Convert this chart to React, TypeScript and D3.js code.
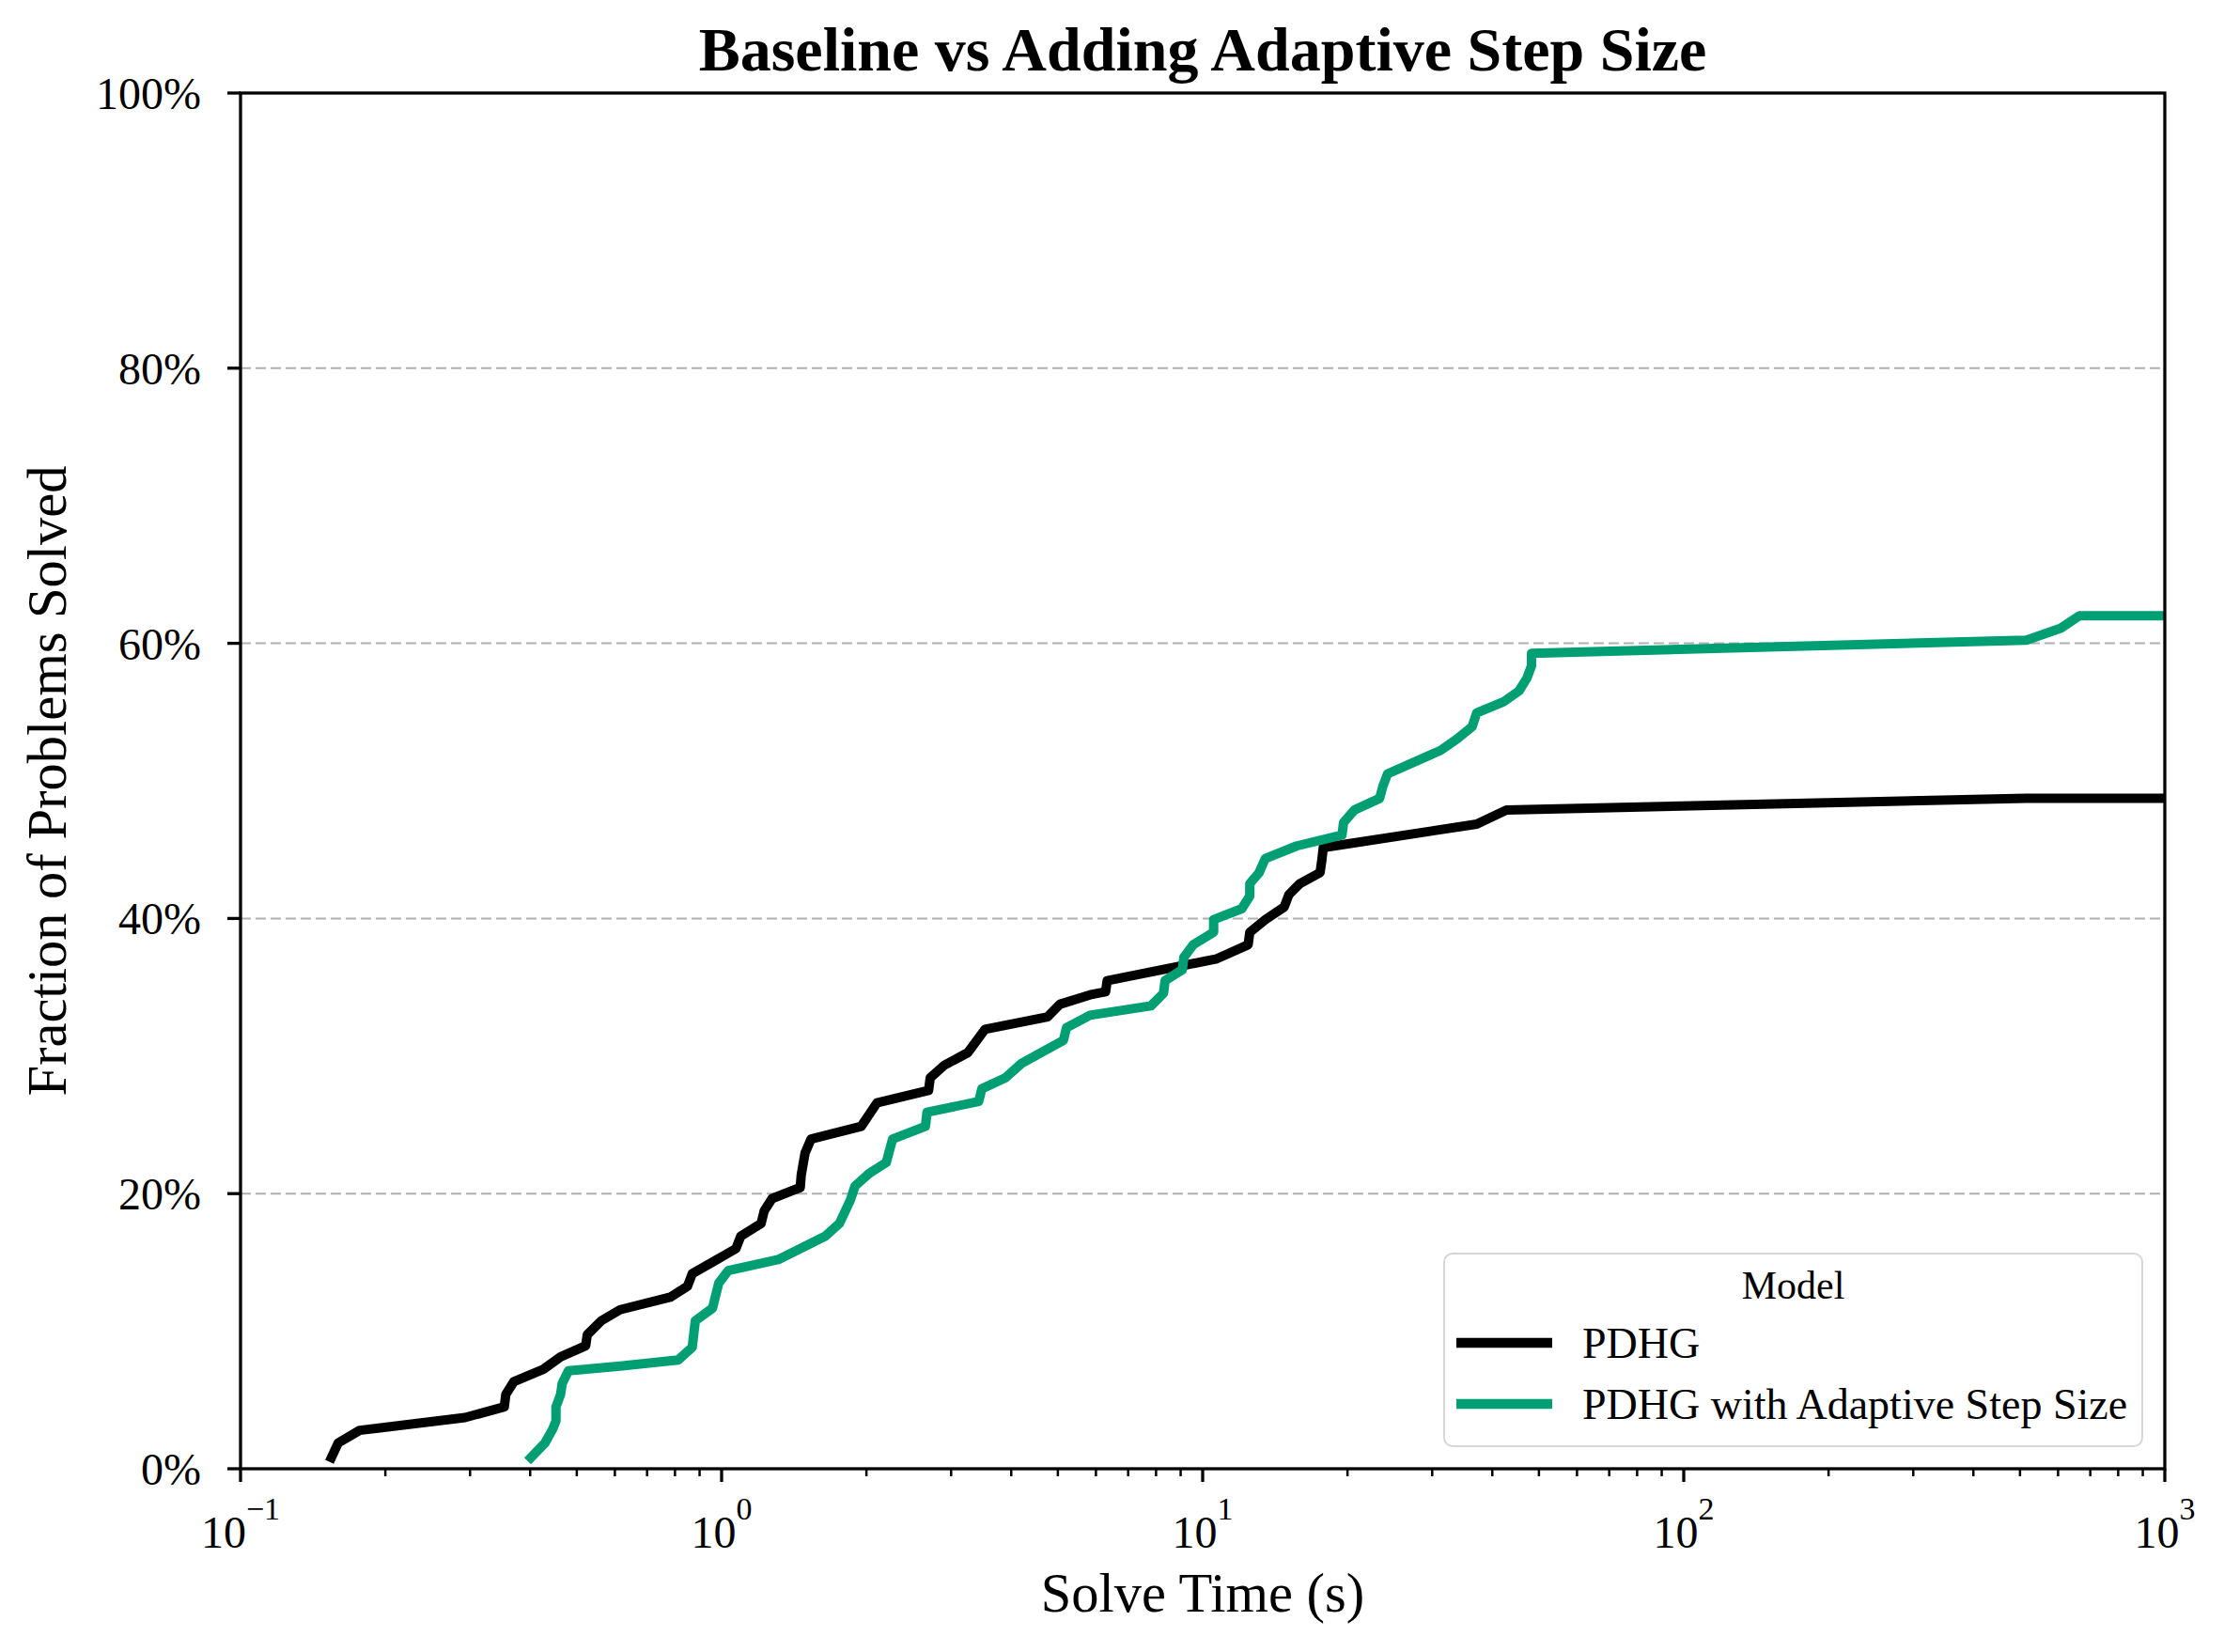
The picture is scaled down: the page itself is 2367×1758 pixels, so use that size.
import {useMemo} from "react";
import * as d3 from "d3";

const WIDTH = 2367;
const HEIGHT = 1758;
const MARGIN = {top: 99, right: 63, bottom: 195, left: 256};

const FONT = "'Liberation Serif', 'Times New Roman', Times, serif";
const GREEN = "#009E73";

// solve time (s) / fraction solved (%)
const pdhgTime = [
    0.1545, 0.1596, 0.1768, 0.2929, 0.3534, 0.356, 0.3697, 0.4261, 0.4628, 0.5217,
    0.5257, 0.5623, 0.6152, 0.7819, 0.8494, 0.8688, 0.9647, 1.071, 1.096, 1.208,
    1.226, 1.273, 1.457, 1.464, 1.491, 1.535, 1.951, 2.103, 2.693, 2.714,
    2.903, 3.249, 3.528, 4.761, 5.054, 5.831, 6.284, 6.33, 10.7, 12.43,
    12.53, 13.5, 14.77, 15.11, 15.92, 17.54, 17.69, 17.81, 37.13, 42.8,
    515.6, 1000,
];
const pdhgSolved = [
    0.81, 1.88, 2.79, 3.72, 4.5, 5.41, 6.32, 7.23, 8.14, 8.94,
    9.74, 10.76, 11.56, 12.47, 13.27, 14.18, 15.09, 16.0, 16.91, 17.82,
    18.74, 19.64, 20.44, 21.35, 22.95, 23.97, 24.89, 26.59, 27.5, 28.41,
    29.33, 30.24, 31.94, 32.85, 33.77, 34.45, 34.68, 35.48, 37.07, 38.09,
    39.0, 39.92, 40.83, 41.74, 42.53, 43.33, 44.24, 45.15, 46.86, 47.89,
    48.73, 48.73,
];

const adaptiveTime = [
    0.4013, 0.4295, 0.4457, 0.4526, 0.4526, 0.4628, 0.4662, 0.4804, 0.6152, 0.8122,
    0.8688, 0.8817, 0.9574, 0.9865, 1.032, 1.311, 1.642, 1.757, 1.852, 1.894,
    2.026, 2.199, 2.267, 2.653, 2.673, 3.424, 3.475, 3.889, 4.194, 5.134,
    5.211, 5.831, 7.808, 8.289, 8.353, 9.071, 9.14, 9.561, 10.54, 10.54,
    12.06, 12.53, 12.53, 13.1, 13.5, 15.68, 19.48, 19.63, 20.69, 23.33,
    23.68, 24.23, 31.24, 33.68, 36.31, 37.13, 42.17, 45.45, 47.18, 48.26,
    48.26, 515.6, 607.8, 665.1, 1000,
];
const adaptiveSolved = [
    0.81, 1.88, 2.9, 3.47, 4.5, 5.41, 6.2, 7.12, 7.46, 7.91,
    8.83, 10.76, 11.67, 13.5, 14.4, 15.2, 16.91, 17.82, 19.53, 20.55,
    21.47, 22.26, 23.97, 24.89, 25.91, 26.7, 27.62, 28.41, 29.44, 31.14,
    32.06, 32.97, 33.65, 34.56, 35.48, 36.27, 37.18, 38.09, 39.0, 39.92,
    40.71, 41.63, 42.53, 43.33, 44.36, 45.27, 46.07, 46.98, 47.89, 48.73,
    49.59, 50.51, 52.22, 53.01, 53.93, 54.95, 55.74, 56.54, 57.45, 58.37,
    59.28, 60.23, 61.1, 62.01, 62.01,
];

const seriesNames = ["PDHG", "PDHG with Adaptive Step Size"];
const seriesColors = ["#000000", GREEN];

const yTicks = [0, 20, 40, 60, 80, 100];
const xMajorTicks = [0.1, 1, 10, 100, 1000];
const xTickExponents = ["\u22121", "0", "1", "2", "3"];

type Pt = { t: number; v: number };

export default function App() {
    const boundsWidth = WIDTH - MARGIN.left - MARGIN.right;
    const boundsHeight = HEIGHT - MARGIN.top - MARGIN.bottom;

    const xScale = useMemo(
        () => d3.scaleLog().domain([0.1, 1000]).range([0, boundsWidth]),
        [boundsWidth]
    );
    const yScale = useMemo(
        () => d3.scaleLinear().domain([0, 100]).range([boundsHeight, 0]),
        [boundsHeight]
    );

    const series: Pt[][] = [
        pdhgTime.map((t, i) => ({t, v: pdhgSolved[i]})),
        adaptiveTime.map((t, i) => ({t, v: adaptiveSolved[i]})),
    ];

    const line = d3
        .line<Pt>()
        .x((d) => xScale(d.t))
        .y((d) => yScale(d.v));

    // minor ticks 2..9 of each decade
    const minorTicks: number[] = [];
    xMajorTicks.slice(0, -1).forEach((base) => {
        for (let k = 2; k <= 9; k++) minorTicks.push(base * k);
    });

    const legendX = 1537 - MARGIN.left;
    const legendY = 1334 - MARGIN.top;

    return (
        <svg
            width={WIDTH}
            height={HEIGHT}
            style={{position: "absolute", left: 0, top: 0, background: "#fff"}}
            fontFamily={FONT}
        >
            <text
                x={MARGIN.left + boundsWidth / 2}
                y={75}
                textAnchor="middle"
                fontSize={66}
                fontWeight="bold"
            >
                Baseline vs Adding Adaptive Step Size
            </text>

            <g transform={`translate(${MARGIN.left},${MARGIN.top})`}>
                <defs>
                    <clipPath id="plot-clip">
                        <rect x={0} y={0} width={boundsWidth} height={boundsHeight}/>
                    </clipPath>
                </defs>

                {/* grid */}
                {yTicks.map((t) => (
                    <line
                        key={`g${t}`}
                        x1={0}
                        x2={boundsWidth}
                        y1={yScale(t)}
                        y2={yScale(t)}
                        stroke="#b0b0b0"
                        strokeWidth={2}
                        strokeDasharray="11,5"
                    />
                ))}

                {/* curves */}
                <g clipPath="url(#plot-clip)">
                    {series.map((s, i) => (
                        <path
                            key={i}
                            d={line(s) ?? ""}
                            fill="none"
                            stroke={seriesColors[i]}
                            strokeWidth={10}
                            strokeLinejoin="round"
                            strokeLinecap="square"
                        />
                    ))}
                </g>

                {/* spines */}
                <rect
                    x={0}
                    y={0}
                    width={boundsWidth}
                    height={boundsHeight}
                    fill="none"
                    stroke="#000"
                    strokeWidth={3.3}
                />

                {/* y axis */}
                {yTicks.map((t) => (
                    <g key={`y${t}`} transform={`translate(0,${yScale(t)})`}>
                        <line x1={-14} x2={0} stroke="#000" strokeWidth={3.3}/>
                        <text x={-42} y={17} textAnchor="end" fontSize={48}>
                            {t}%
                        </text>
                    </g>
                ))}

                {/* x axis */}
                {minorTicks.map((t) => (
                    <line
                        key={`m${t}`}
                        x1={xScale(t)}
                        x2={xScale(t)}
                        y1={boundsHeight}
                        y2={boundsHeight + 8}
                        stroke="#000"
                        strokeWidth={2.5}
                    />
                ))}
                {xMajorTicks.map((t, i) => (
                    <g key={`x${t}`} transform={`translate(${xScale(t)},${boundsHeight})`}>
                        <line y1={0} y2={14} stroke="#000" strokeWidth={3.3}/>
                        <text y={84} textAnchor="middle" fontSize={48}>
                            10
                            <tspan dy={-30} fontSize={34}>
                                {xTickExponents[i]}
                            </tspan>
                        </text>
                    </g>
                ))}

                {/* axis labels */}
                <text
                    x={boundsWidth / 2}
                    y={1715 - MARGIN.top}
                    textAnchor="middle"
                    fontSize={58.5}
                >
                    Solve Time (s)
                </text>
                <text
                    transform={`translate(${70 - MARGIN.left},${boundsHeight / 2}) rotate(-90)`}
                    textAnchor="middle"
                    fontSize={58.5}
                >
                    Fraction of Problems Solved
                </text>

                {/* legend */}
                <g transform={`translate(${legendX},${legendY})`}>
                    <rect
                        x={0}
                        y={0}
                        width={743}
                        height={205}
                        rx={9}
                        fill="#fff"
                        fillOpacity={0.8}
                        stroke="#d6d6d6"
                        strokeWidth={2}
                    />
                    <text x={743 / 2} y={48} textAnchor="middle" fontSize={42}>
                        Model
                    </text>
                    {seriesNames.map((name, i) => (
                        <g key={name} transform={`translate(0,${95 + i * 65})`}>
                            <line
                                x1={13}
                                x2={115}
                                y1={0}
                                y2={0}
                                stroke={seriesColors[i]}
                                strokeWidth={10.5}
                            />
                            <text x={147} y={16} fontSize={46}>
                                {name}
                            </text>
                        </g>
                    ))}
                </g>
            </g>
        </svg>
    );
}
